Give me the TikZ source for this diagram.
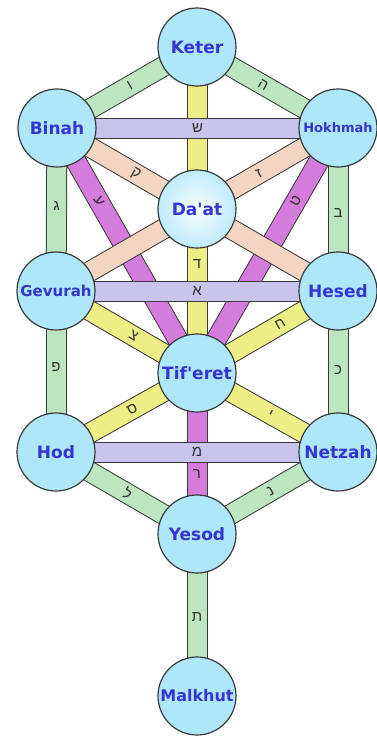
\documentclass[tikz,border=0pt]{standalone}
\usepackage{fontspec}
\newfontfamily\nodefont{DejaVu Sans}
\newfontfamily\heb[Script=Hebrew]{Liberation Sans}
\pgfdeclarelayer{bars}
\pgfsetlayers{bars,main}
\definecolor{sefc}{HTML}{AEE6FA}
\definecolor{edge}{HTML}{3A3A3A}
\definecolor{txt}{HTML}{3535CF}
\definecolor{grn}{HTML}{BCE6C0}
\definecolor{yel}{HTML}{EEEE86}
\definecolor{lav}{HTML}{C8C4EC}
\definecolor{mag}{HTML}{D47CDC}
\definecolor{sal}{HTML}{F4D4C2}
\definecolor{lbltxt}{HTML}{303030}
\begin{document}
\begin{tikzpicture}[x=1pt,y=-1pt,
  sefira/.style={circle,draw=edge,line width=1.2pt,fill=sefc,minimum size=78pt,inner sep=0pt,
    font=\nodefont\bfseries\fontsize{17}{17}\selectfont,text=txt},
  daat/.style={shade,inner color=white!92!sefc,outer color=sefc!80!white},
  bar/.style={draw=edge,line width=1pt,double=#1,double distance=19pt},
  lbl/.style={font=\heb\fontsize{15}{15}\selectfont,text=lbltxt,inner sep=0pt}]
\useasboundingbox (0,0) rectangle (376,736);
\node[sefira] (keter) at (197,47) {Keter};
\node[sefira] (binah) at (57,128) {Binah};
\node[sefira,font=\nodefont\bfseries\fontsize{13}{13}\selectfont] (hokhmah) at (338,128) {Hokhmah};
\node[sefira,daat] (daat) at (197,209) {Da'at};
\node[sefira,font=\nodefont\bfseries\fontsize{15}{15}\selectfont] (gevurah) at (56,291) {Gevurah};
\node[sefira] (hesed) at (338,291) {Hesed};
\node[sefira] (tiferet) at (197,373) {Tif'eret};
\node[sefira] (hod) at (56,452) {Hod};
\node[sefira] (netzah) at (338,452) {Netzah};
\node[sefira] (yesod) at (197,534) {Yesod};
\node[sefira,font=\nodefont\bfseries\fontsize{16}{16}\selectfont] (malkhut) at (197,696) {Malkhut};
\begin{pgfonlayer}{bars}
\fill[white] (0,0) rectangle (376,736);
% green paths
\draw[bar=grn] (keter.center) -- node[lbl,sloped,pos=.48]{ו} (binah.center);
\draw[bar=grn] (keter.center) -- node[lbl,sloped,pos=.47]{ה} (hokhmah.center);
\draw[bar=grn] (binah.center) -- node[lbl,pos=.48]{ג} (gevurah.center);
\draw[bar=grn] (hokhmah.center) -- node[lbl,pos=.52]{ב} (hesed.center);
\draw[bar=grn] (gevurah.center) -- node[lbl,pos=.47]{פ} (hod.center);
\draw[bar=grn] (hesed.center) -- node[lbl,pos=.49]{כ} (netzah.center);
\draw[bar=grn] (hod.center) -- node[lbl,sloped,pos=.51]{ל} (yesod.center);
\draw[bar=grn] (netzah.center) -- node[lbl,sloped,pos=.48]{נ} (yesod.center);
\draw[bar=grn] (yesod.center) -- node[lbl,pos=.51]{ת} (malkhut.center);
% yellow paths
\draw[bar=yel] (keter.center) -- node[lbl,pos=.666]{ד} (tiferet.center);
\draw[bar=yel] (gevurah.center) -- node[lbl,sloped,pos=.55]{צ} (tiferet.center);
\draw[bar=yel] (hesed.center) -- node[lbl,sloped,pos=.41]{ח} (tiferet.center);
\draw[bar=yel] (hod.center) -- node[lbl,sloped,pos=.54]{ס} (tiferet.center);
\draw[bar=yel] (netzah.center) -- node[lbl,sloped,pos=.48]{י} (tiferet.center);
% magenta paths
\draw[bar=mag] (binah.center) -- node[lbl,sloped,pos=.3]{ע} (tiferet.center);
\draw[bar=mag] (hokhmah.center) -- node[lbl,sloped,pos=.3]{ט} (tiferet.center);
\draw[bar=mag] (tiferet.center) -- node[lbl,pos=.63]{ר} (yesod.center);
% salmon paths
\draw[bar=sal] (binah.center) -- node[lbl,sloped,pos=.28]{ק} (hesed.center);
\draw[bar=sal] (hokhmah.center) -- node[lbl,sloped,pos=.28]{ז} (gevurah.center);
% lavender horizontal paths
\draw[bar=lav] (binah.center) -- node[lbl]{ש} (hokhmah.center);
\draw[bar=lav] (gevurah.center) -- node[lbl]{א} (hesed.center);
\draw[bar=lav] (hod.center) -- node[lbl]{מ} (netzah.center);
\end{pgfonlayer}
\end{tikzpicture}
\end{document}
